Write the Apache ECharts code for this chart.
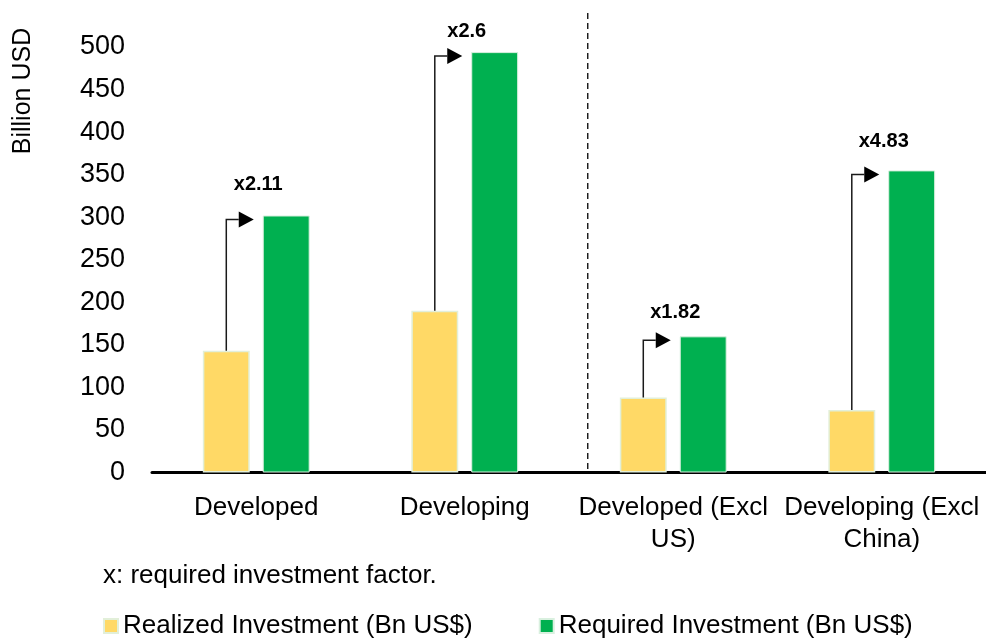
<!DOCTYPE html>
<html>
<head>
<meta charset="utf-8">
<title>Realized vs Required Investment</title>
<script src="https://cdn.jsdelivr.net/npm/echarts@6/dist/echarts.min.js"></script>
<style>
  html, body { margin: 0; padding: 0; background: #fff; }
  #chart { width: 986px; height: 642px; }
</style>
</head>
<body>
<div id="chart"></div>
<script>
// Investment groups shown on the x axis
const categories = ['Developed', 'Developing', 'Developed (Excl US)', 'Developing (Excl China)'];
// Billion USD
const realized = [143, 190, 88, 73.5];
const required = [302, 494, 160, 355];
// Required investment factor (required / realized)
const factors = ['x2.11', 'x2.6', 'x1.82', 'x4.83'];
// Y axis ticks
const yTicks = { min: 0, max: 500, step: 50 };

const FONT = "'Liberation Sans', Arial, Helvetica, sans-serif";
const BAR_WIDTH = 0.225;   // share of the category band
const BAR_GAP = 0.277;     // share of a bar's width
const labelLift = [31, 21, 24, 29];

const chart = echarts.init(document.getElementById('chart'), null, { renderer: 'canvas' });

// Elbow arrows from each realized bar to its required bar, plus the factor label
function renderArrow(params, api) {
  const i = api.value(0);
  const base = api.coord([i, 0]);
  const band = api.size([1, 0])[0];
  const bw = band * BAR_WIDTH;
  const off = (bw + bw * BAR_GAP) / 2;
  const xr = base[0] - off;
  const greenLeft = base[0] + off - bw / 2;
  const yReal = api.coord([i, api.value(1)])[1];
  const yReq = api.coord([i, api.value(2)])[1];
  const yArrow = yReq + 4;
  const tip = greenLeft - 9;
  const headBase = tip - 15;

  const children = [
    {
      type: 'polyline',
      shape: { points: [[xr, yReal], [xr, yArrow], [headBase, yArrow]] },
      style: { stroke: '#1a1a1a', lineWidth: 1.5, fill: null }
    },
    {
      type: 'polygon',
      shape: { points: [[headBase, yArrow - 8], [tip, yArrow], [headBase, yArrow + 8]] },
      style: { fill: '#000' }
    },
    {
      type: 'text',
      x: base[0] + 2,
      y: yReq - labelLift[params.dataIndex],
      style: {
        text: factors[params.dataIndex],
        fill: '#000',
        font: 'bold 20px ' + FONT,
        textAlign: 'center',
        textVerticalAlign: 'middle'
      }
    }
  ];

  // Dashed divider between the overall groups and the "Excl" groups
  if (params.dataIndex === 1) {
    const xd = base[0] + band * 0.59;
    const yTop = api.coord([i, 540])[1];
    children.push({
      type: 'line',
      shape: { x1: xd, y1: yTop, x2: xd, y2: base[1] },
      style: { stroke: '#000', lineWidth: 1.3, lineDash: [6, 4] }
    });
  }
  return { type: 'group', children: children };
}

const option = {
  animation: false,
  backgroundColor: '#fff',
  textStyle: { fontFamily: FONT, color: '#000' },
  grid: { left: 152, right: 0, top: 47, bottom: 169.5 },
  xAxis: {
    type: 'category',
    data: categories,
    axisLine: { show: true, lineStyle: { color: '#000', width: 3 } },
    axisTick: { show: false },
    axisLabel: {
      interval: 0,
      margin: 19,
      fontSize: 26,
      lineHeight: 32,
      color: '#000',
      fontFamily: FONT,
      formatter: v => v.replace(/\s(\S+\))$/, '\n$1')
    }
  },
  yAxis: {
    type: 'value',
    min: yTicks.min,
    max: yTicks.max,
    interval: yTicks.step,
    axisLine: { show: false },
    axisTick: { show: false },
    splitLine: { show: false },
    axisLabel: { margin: 27, fontSize: 27, color: '#000', fontFamily: FONT }
  },
  legend: {
    data: ['Realized Investment (Bn US$)', 'Required Investment (Bn US$)'],
    left: 103,
    top: 613,
    padding: 0,
    icon: 'rect',
    itemWidth: 14,
    itemHeight: 14,
    itemGap: 66,
    textStyle: { fontSize: 26, color: '#000', fontFamily: FONT }
  },
  graphic: [
    {
      type: 'text',
      x: 23,
      y: 91,
      rotation: Math.PI / 2,
      style: {
        text: 'Billion USD',
        fill: '#000',
        font: '25px ' + FONT,
        textAlign: 'center',
        textVerticalAlign: 'middle'
      }
    },
    {
      type: 'text',
      x: 103,
      y: 576,
      style: {
        text: 'x: required investment factor.',
        fill: '#000',
        font: '26px ' + FONT,
        textAlign: 'left',
        textVerticalAlign: 'middle'
      }
    }
  ],
  series: [
    {
      name: 'Realized Investment (Bn US$)',
      type: 'bar',
      data: realized,
      barWidth: (BAR_WIDTH * 100) + '%',
      barGap: (BAR_GAP * 100) + '%',
      itemStyle: { color: '#FFD966', borderColor: '#E2EFD9', borderWidth: 1.5 }
    },
    {
      name: 'Required Investment (Bn US$)',
      type: 'bar',
      data: required,
      barWidth: (BAR_WIDTH * 100) + '%',
      itemStyle: { color: '#00B050', borderColor: '#D9F0DF', borderWidth: 1 }
    },
    {
      type: 'custom',
      name: 'factor',
      clip: false,
      z: 5,
      renderItem: renderArrow,
      data: categories.map((c, i) => [i, realized[i], required[i]]),
      encode: { x: 0, y: [1, 2] },
      silent: true,
      tooltip: { show: false }
    }
  ]
};

chart.setOption(option);
</script>
</body>
</html>
